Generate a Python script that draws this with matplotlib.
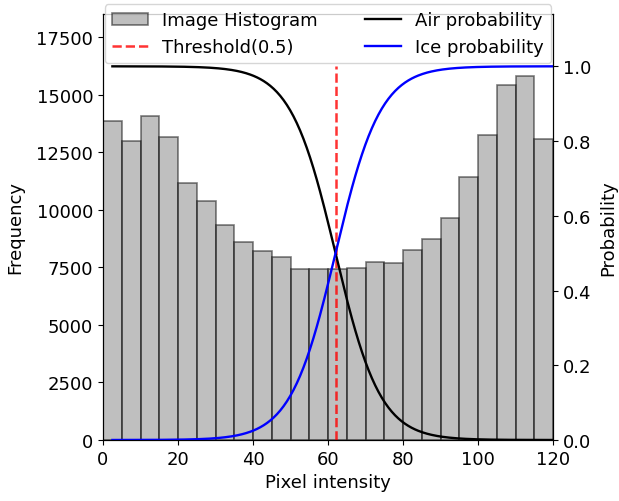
import numpy as np
import matplotlib
matplotlib.use("Agg")
import matplotlib.pyplot as plt

plt.rcParams["font.size"] = 13

BIN_WIDTH = 5
bin_left = np.arange(0, 120, BIN_WIDTH)
counts = [13850, 13000, 14090, 13160, 11170, 10400, 9350, 8590,
          8220, 7960, 7420, 7420, 7435, 7465, 7725, 7665,
          8230, 8710, 9650, 11420, 13250, 15420, 15825, 13050]

THRESHOLD = 62.0   # intensity where both probabilities are 0.5
SCALE = 6.0        # logistic width
x_curve = np.linspace(2.5, 120, 400)
ice_prob = 1.0 / (1.0 + np.exp(-(x_curve - THRESHOLD) / SCALE))
air_prob = 1.0 - ice_prob

fig = plt.figure(figsize=(6.19, 5.02), dpi=100)
ax1 = fig.add_axes([103 / 619, 1 - 441 / 502, 450 / 619, 426 / 502])
ax2 = ax1.twinx()

ax1.bar(bin_left, counts, width=BIN_WIDTH, align="edge", color="gray",
        edgecolor="black", alpha=0.5, linewidth=1.2, label="Image Histogram")
ax1.set_xlim(0, 120)
ax1.set_ylim(0, 18500)
ax1.set_xticks(np.arange(0, 121, 20))
ax1.set_xlabel("Pixel intensity")
ax1.set_ylabel("Frequency", labelpad=9)

thr = ax2.plot([THRESHOLD, THRESHOLD], [0, 1], "r--", lw=1.8, alpha=0.8,
               label="Threshold(0.5)")
air = ax2.plot(x_curve, air_prob, color="black", lw=1.7, label="Air probability")
ice = ax2.plot(x_curve, ice_prob, color="blue", lw=1.7, label="Ice probability")
ax2.set_ylim(0, 1.14)
ax2.set_yticks([0.0, 0.2, 0.4, 0.6, 0.8, 1.0])
ax2.set_ylabel("Probability", labelpad=6)

h1, l1 = ax1.get_legend_handles_labels()
h2, l2 = ax2.get_legend_handles_labels()
ax2.legend(h1 + h2, l1 + l2, ncol=2, loc="upper center",
           bbox_to_anchor=(0.5, 1 + 10 / 426), borderaxespad=0,
           columnspacing=2.6)

fig.savefig("out.png", dpi=100)
